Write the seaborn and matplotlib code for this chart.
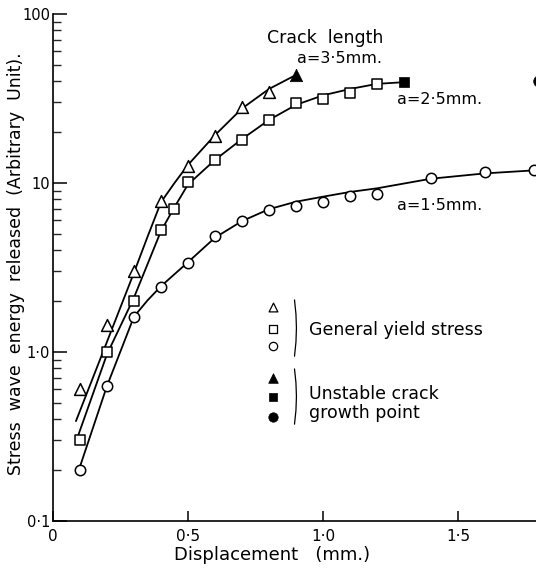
import matplotlib
matplotlib.use("Agg")
import matplotlib.pyplot as plt
import seaborn as sns
from matplotlib.ticker import FixedLocator, FixedFormatter, LogLocator, NullFormatter

# ---- data ----
# open markers (general yield stress)
tri_x = [0.1, 0.2, 0.3, 0.4, 0.5, 0.6, 0.7, 0.8]
tri_y = [0.6, 1.45, 3.0, 7.8, 12.6, 19.0, 28.3, 34.4]
sq_x = [0.1, 0.2, 0.3, 0.4, 0.45, 0.5, 0.6, 0.7, 0.8, 0.9, 1.0, 1.1, 1.2]
sq_y = [0.30, 1.0, 2.0, 5.3, 7.0, 10.1, 13.7, 18.0, 23.7, 29.9, 31.3, 34.0, 38.6]
cir_x = [0.1, 0.2, 0.3, 0.4, 0.5, 0.6, 0.7, 0.8, 0.9, 1.0, 1.1, 1.2, 1.4, 1.6, 1.78]
cir_y = [0.2, 0.63, 1.62, 2.41, 3.35, 4.84, 5.93, 6.96, 7.35, 7.7, 8.4, 8.6, 10.7, 11.55, 12.0]

# filled markers (unstable crack growth point)
unst_tri_x, unst_tri_y = [0.9], [43.6]
unst_sq_x, unst_sq_y = [1.3], [39.5]
unst_cir_x, unst_cir_y = [1.8], [40.0]

# fitted curves (knots)
c35_x = [0.085, 0.2, 0.3, 0.35, 0.4, 0.45, 0.5, 0.6, 0.7, 0.8, 0.9]
c35_y = [0.39, 1.15, 2.95, 4.8, 7.7, 10.0, 12.8, 19.2, 27.6, 36.0, 43.6]
c25_x = [0.09, 0.2, 0.3, 0.4, 0.45, 0.5, 0.6, 0.7, 0.8, 0.9, 1.0, 1.1, 1.2, 1.3]
c25_y = [0.31, 0.97, 2.1, 5.2, 7.2, 9.8, 13.7, 18.2, 23.6, 29.0, 33.0, 36.0, 38.6, 39.5]
c15_x = [0.1, 0.2, 0.3, 0.35, 0.4, 0.5, 0.6, 0.7, 0.8, 0.9, 1.0, 1.1, 1.2, 1.4, 1.6, 1.79]
c15_y = [0.21, 0.63, 1.62, 2.02, 2.45, 3.4, 4.75, 5.95, 7.0, 7.75, 8.3, 8.85, 9.3, 10.6, 11.4, 11.9]

xtick_vals = [0, 0.5, 1.0, 1.5]
xtick_labels = ["0", "0·5", "1·0", "1·5"]
ytick_vals = [0.1, 1, 10, 100]
ytick_labels = ["0·1", "1·0", "10", "100"]

curve_labels = ["a=3·5mm.", "a=2·5mm.", "a=1·5mm."]

# ---- style ----
sns.set_theme(style="white")
plt.rcParams["font.family"] = ["DejaVu Sans"]
plt.rcParams["text.color"] = "black"
plt.rcParams["axes.labelcolor"] = "black"

fig = plt.figure(figsize=(5.36, 5.72), dpi=100)
fig.patch.set_facecolor("white")
ax = fig.add_axes([53 / 536, 51 / 572, 483 / 536, 507 / 572])
ax.set_facecolor("white")

# curves
for cx, cy in [(c35_x, c35_y), (c25_x, c25_y), (c15_x, c15_y)]:
    sns.lineplot(x=cx, y=cy, ax=ax, color="black", linewidth=1.3,
                 sort=False, estimator=None, zorder=2)

# open markers
sns.scatterplot(x=tri_x, y=tri_y, ax=ax, marker="^", s=72,
                facecolor="white", edgecolor="black", linewidth=1.1, zorder=3)
sns.scatterplot(x=sq_x, y=sq_y, ax=ax, marker="s", s=44,
                facecolor="white", edgecolor="black", linewidth=1.1, zorder=3)
sns.scatterplot(x=cir_x, y=cir_y, ax=ax, marker="o", s=56,
                facecolor="white", edgecolor="black", linewidth=1.1, zorder=3)

# filled markers
sns.scatterplot(x=unst_tri_x, y=unst_tri_y, ax=ax, marker="^", s=80,
                color="black", edgecolor="black", linewidth=0.5, zorder=3)
sns.scatterplot(x=unst_sq_x, y=unst_sq_y, ax=ax, marker="s", s=55,
                color="black", edgecolor="black", linewidth=0.5, zorder=3)
sns.scatterplot(x=unst_cir_x, y=unst_cir_y, ax=ax, marker="o", s=70,
                color="black", edgecolor="black", linewidth=0.5, zorder=3)

# axes
ax.set_yscale("log")
ax.set_xlim(0, 1.789)
ax.set_ylim(0.1, 100)

ax.xaxis.set_major_locator(FixedLocator(xtick_vals))
ax.xaxis.set_major_formatter(FixedFormatter(xtick_labels))
ax.yaxis.set_major_locator(FixedLocator(ytick_vals))
ax.yaxis.set_major_formatter(FixedFormatter(ytick_labels))
ax.yaxis.set_minor_locator(LogLocator(base=10, subs=range(2, 10)))
ax.yaxis.set_minor_formatter(NullFormatter())

ax.tick_params(axis="x", which="major", direction="in", length=7, width=1.1,
               pad=6, labelsize=11, colors="black", bottom=True)
ax.tick_params(axis="y", which="major", direction="in", length=10, width=1.1,
               pad=2, labelsize=10.5, colors="black", left=True)
ax.tick_params(axis="y", which="minor", direction="in", length=6, width=1.0,
               left=True)

for side in ["top", "right"]:
    ax.spines[side].set_visible(False)
for side in ["left", "bottom"]:
    ax.spines[side].set_color("black")
    ax.spines[side].set_linewidth(1.2)

ax.set_xlabel("Displacement   (mm.)", fontsize=13)
ax.xaxis.label.set_va("baseline")
ax.xaxis.set_label_coords(0.453, -0.077)
ax.set_ylabel("Stress  wave  energy  released  (Arbitrary  Unit).", fontsize=12.5)
ax.yaxis.set_label_coords(-0.058, 0.508)

# annotations
ax.text(0.443, 0.942, "Crack  length", transform=ax.transAxes, fontsize=12.5,
        ha="left", va="baseline")
ax.text(0.505, 0.904, curve_labels[0], transform=ax.transAxes, fontsize=11.5,
        ha="left", va="baseline")
ax.text(0.712, 0.822, curve_labels[1], transform=ax.transAxes, fontsize=11.5,
        ha="left", va="baseline")
ax.text(0.712, 0.613, curve_labels[2], transform=ax.transAxes, fontsize=11.5,
        ha="left", va="baseline")

# custom key
lx = 0.4555
key_open = [("^", 0.422, 40), ("s", 0.379, 26), ("o", 0.345, 36)]
key_fill = [("^", 0.282, 48), ("s", 0.245, 30), ("o", 0.205, 46)]
for m, yy, sz in key_open:
    ax.scatter([lx], [yy], marker=m, s=sz, facecolor="white", edgecolor="black",
               linewidth=0.9, transform=ax.transAxes, zorder=4, clip_on=False)
for m, yy, sz in key_fill:
    ax.scatter([lx], [yy], marker=m, s=sz, facecolor="black", edgecolor="black",
               linewidth=0.5, transform=ax.transAxes, zorder=4, clip_on=False)

for ytop, ybot in [(0.436, 0.325), (0.300, 0.191)]:
    ymid = (ytop + ybot) / 2
    ax.plot([0.500, 0.503, 0.504, 0.503, 0.500], [ytop, ytop - (ytop - ymid) * 0.5, ymid,
            ymid - (ymid - ybot) * 0.5, ybot], color="black", linewidth=0.9,
            transform=ax.transAxes)

ax.text(0.530, 0.367, "General yield stress", transform=ax.transAxes,
        fontsize=12.5, ha="left", va="baseline")
ax.text(0.531, 0.240, "Unstable crack", transform=ax.transAxes,
        fontsize=12.5, ha="left", va="baseline")
ax.text(0.531, 0.2026, "growth point", transform=ax.transAxes,
        fontsize=12.5, ha="left", va="baseline")

fig.savefig("out.png", dpi=100, facecolor="white")
